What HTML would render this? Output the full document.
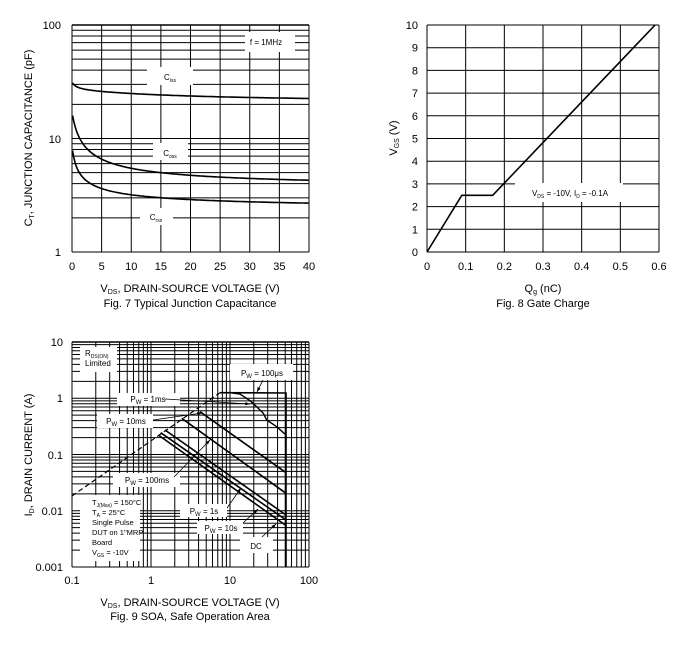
<!DOCTYPE html>
<html><head><meta charset="utf-8"><style>
html,body{margin:0;padding:0;background:#fff;}
svg{display:block;font-family:"Liberation Sans",Arial,sans-serif;}
</style></head><body>
<svg id="s" width="690" height="645" viewBox="0 0 690 645" xmlns="http://www.w3.org/2000/svg"></svg>
<script>
var o='';
function L(x1,y1,x2,y2,w,extra){o+='<line x1="'+x1+'" y1="'+y1+'" x2="'+x2+'" y2="'+y2+'" stroke="#000" stroke-width="'+(w||1)+'" '+(extra||'')+'/>';}
function T(x,y,t,a,s,extra){o+='<text x="'+x+'" y="'+y+'" font-size="'+(s||11)+'" text-anchor="'+(a||'middle')+'" '+(extra||'')+'>'+t+'</text>';}
function R(x,y,w,h){o+='<rect x="'+x+'" y="'+y+'" width="'+w+'" height="'+h+'" fill="#fff"/>';}
function P(pts,w,extra){o+='<polyline fill="none" stroke="#000" stroke-width="'+(w||1.6)+'" points="'+pts.map(function(p){return p[0].toFixed(1)+','+p[1].toFixed(1)}).join(' ')+'" '+(extra||'')+'/>';}
function A(x1,y1,x2,y2){L(x1,y1,x2,y2,0.8);var a=Math.atan2(y2-y1,x2-x1),s=5;
o+='<polygon points="'+x2+','+y2+' '+(x2-s*Math.cos(a-0.35))+','+(y2-s*Math.sin(a-0.35))+' '+(x2-s*Math.cos(a+0.35))+','+(y2-s*Math.sin(a+0.35))+'" fill="#000"/>';}

/* ---------- Fig 7 ---------- */
var X0=72,X1=309,Y0=25,Y1=252;
function fy7(v){return Y1-(Math.log10(v))*(Y1-Y0)/2;}
function fx7(v){return X0+v*(X1-X0)/40;}
for(var d=1;d<=10;d*=10)for(var k=1;k<10;k++){var y=fy7(d*k);L(X0,y,X1,y,1);}
for(var v=0;v<=40;v+=5)L(fx7(v),Y0,fx7(v),Y1,1);
L(X0,Y0,X1,Y0,1.5);
function curve(f){var p=[];for(var v=0.1;v<=40;v+=0.2)p.push([fx7(v),fy7(f(v))]);return p;}
P(curve(function(v){return 23+5/(1+v*1.5)+3.5*Math.exp(-v/15)-0.02*v;}));
P(curve(function(v){return 3.6+13.5/Math.pow(1+v*1.3,0.75);}));
P(curve(function(v){return 2.3+6.3/Math.pow(1+v*2.5,0.6);}));
R(245,32,50,20);T(266,45,"f = 1MHz","middle",8);
R(147,67,46,18);T(170,80,'C<tspan font-size="5" dy="2">iss</tspan>',"middle",8);
R(153,143,35,17);T(170,156,'C<tspan font-size="5" dy="2">oss</tspan>',"middle",8);
R(140,208,33,17);T(156,220,'C<tspan font-size="5" dy="2">rss</tspan>',"middle",8);
T(61,29,"100","end");T(61,143,"10","end");T(61,256,"1","end");
for(var v=0;v<=40;v+=5)T(fx7(v),270,v);
T(190,292,'V<tspan font-size="7" dy="2">DS</tspan><tspan dy="-2">, DRAIN-SOURCE VOLTAGE (V)</tspan>');
T(190,307,"Fig. 7 Typical Junction Capacitance");
T(32,138,'C<tspan font-size="7" dy="2">T</tspan><tspan dy="-2">, JUNCTION CAPACITANCE (pF)</tspan>',"middle",11,'transform="rotate(-90 32 138)"');

/* ---------- Fig 8 ---------- */
var A0=427,A1=659,B0=25,B1=252;
function fx8(v){return A0+v*(A1-A0)/0.6;}function fy8(v){return B1-v*(B1-B0)/10;}
for(var i=0;i<=10;i++)L(A0,fy8(i),A1,fy8(i),1);
for(var i=0;i<=6;i++)L(fx8(i/10),B0,fx8(i/10),B1,1);
R(515,183,108,19);
T(570,196,'V<tspan font-size="5" dy="2">DS</tspan><tspan dy="-2"> = -10V, I</tspan><tspan font-size="5" dy="2">D</tspan><tspan dy="-2"> = -0.1A</tspan>',"middle",8);
P([[fx8(0),fy8(0)],[fx8(0.09),fy8(2.5)],[fx8(0.17),fy8(2.5)],[fx8(0.59),fy8(10)]],1.6);
for(var i=0;i<=10;i++)T(418,fy8(i)+4,i,"end");
for(var i=0;i<=6;i++)T(fx8(i/10),270,i==0?"0":(i/10).toFixed(1));
T(543,292,'Q<tspan font-size="7" dy="2">g</tspan><tspan dy="-2"> (nC)</tspan>');
T(543,307,"Fig. 8 Gate Charge");
T(397,138,'V<tspan font-size="7" dy="2">GS</tspan><tspan dy="-2"> (V)</tspan>',"middle",11,'transform="rotate(-90 397 138)"');

/* ---------- Fig 9 ---------- */
var C0=72,C1=309,D0=342,D1=567;
function fx9(v){return C0+(Math.log10(v)+1)*(C1-C0)/3;}function fy9(v){return D1-(Math.log10(v)+3)*(D1-D0)/4;}
for(var d=0.1;d<=10.1;d*=10)for(var k=1;k<10;k++)L(fx9(d*k),D0,fx9(d*k),D1,1);
for(var d=0.001;d<=1.01;d*=10)for(var k=1;k<10;k++)L(C0,fy9(d*k),C1,fy9(d*k),1);
L(C0,D0,C1,D0,1.5);L(C1,D0,C1,D1,1);
R(80,347,37,25);T(85,356,'R<tspan font-size="5" dy="2">DS(ON)</tspan>',"start",8);T(85,366,"Limited","start",8);
R(230,364,63,16);T(262,376,'P<tspan font-size="6" dy="2">W</tspan><tspan dy="-2"> = 100μs</tspan>',"middle",8);
R(117,393,63,13);T(148,402,'P<tspan font-size="6" dy="2">W</tspan><tspan dy="-2"> = 1ms</tspan>',"middle",8);
R(97,414,56,14);T(126,424,'P<tspan font-size="6" dy="2">W</tspan><tspan dy="-2"> = 10ms</tspan>',"middle",8);
R(113,473,67,14);T(147,483,'P<tspan font-size="6" dy="2">W</tspan><tspan dy="-2"> = 100ms</tspan>',"middle",8);
R(80,495,60,66);
T(92,505,'T<tspan font-size="5" dy="2">J(Max)</tspan><tspan dy="-2"> = 150°C</tspan>',"start",7.5);
T(92,515,'T<tspan font-size="5" dy="2">A</tspan><tspan dy="-2"> = 25°C</tspan>',"start",7.5);
T(92,525,"Single Pulse","start",7.5);T(92,535,"DUT on 1\"MRP","start",7.5);T(92,545,"Board","start",7.5);
T(92,555,'V<tspan font-size="5" dy="2">GS</tspan><tspan dy="-2"> = -10V</tspan>',"start",7.5);
R(180,504,47,13);T(204,514,'P<tspan font-size="6" dy="2">W</tspan><tspan dy="-2"> = 1s</tspan>',"middle",8);
R(197,521,46,13);T(221,531,'P<tspan font-size="6" dy="2">W</tspan><tspan dy="-2"> = 10s</tspan>',"middle",8);
R(240,537,33,16);T(256,549,"DC","middle",8);
P([[72,496],[220,392.7]],1.2,'stroke-dasharray="5,3"');
P([[220,392.7],[286,393],[286,567]],1.6);
P([[230,392.7],[240,394],[250,400.7],[256.7,406.7],[263.3,413.3],[266.7,420],[276.7,426.7],[286,435]],1.4);
P([[200,411.7],[286,472.7]],1.6);
P([[181.7,418.3],[286,493.3]],1.6);
P([[165,430],[286,515]],1.6);
P([[160.7,432.7],[286,520]],1.6);
P([[158.3,435],[286,525.5]],1.6);
A(263,380,257,392);A(165,399,250,404);A(153,420,202,413);A(174,477,210,440);
A(227,508,241,488);A(243,523,258,509);A(262,537,276,524);
T(63,346,"10","end");T(63,402,"1","end");T(63,459,"0.1","end");T(63,515,"0.01","end");T(63,571,"0.001","end");
T(72,584,"0.1");T(151,584,"1");T(230,584,"10");T(309,584,"100");
T(190,606,'V<tspan font-size="7" dy="2">DS</tspan><tspan dy="-2">, DRAIN-SOURCE VOLTAGE (V)</tspan>');
T(190,620,"Fig. 9 SOA, Safe Operation Area");
T(32,455,'I<tspan font-size="7" dy="2">D</tspan><tspan dy="-2">, DRAIN CURRENT (A)</tspan>',"middle",11,'transform="rotate(-90 32 455)"');
document.getElementById('s').innerHTML=o;
</script>
</body></html>
